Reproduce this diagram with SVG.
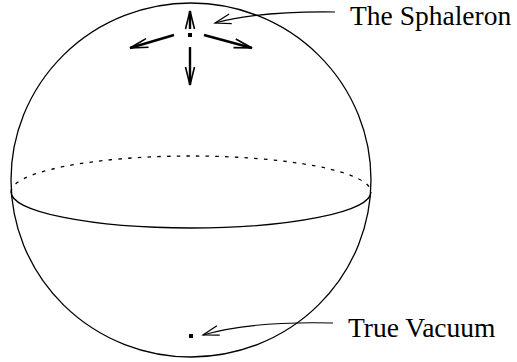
<svg xmlns="http://www.w3.org/2000/svg" width="517" height="362" viewBox="0 0 517 362">
<style>
.ln{fill:none;stroke:#000;stroke-width:1.3}
.thick{fill:none;stroke:#000;stroke-width:2.4}
.ptr{fill:none;stroke:#000;stroke-width:1.2}
.lbl{font-family:"Liberation Serif","Times New Roman",serif;font-size:27.5px;fill:#000}
</style>
<defs>
<marker id="bigV" markerUnits="userSpaceOnUse" markerWidth="30" markerHeight="20" viewBox="-20 -10 30 20" refX="0" refY="0" orient="auto">
<path d="M-18,-4.5 L0,0 L-18,4.5" fill="none" stroke="#000" stroke-width="1.6"/>
</marker>
<marker id="smallV" markerUnits="userSpaceOnUse" markerWidth="30" markerHeight="20" viewBox="-20 -10 30 20" refX="0" refY="0" orient="auto">
<path d="M-16,-5 L0,0 L-16,5" fill="none" stroke="#000" stroke-width="1.2"/>
</marker>
</defs>
<g id="sphere">
<ellipse class="ln" cx="191" cy="180" rx="180" ry="177"/>
</g>
<g id="equator">
<path class="ln" d="M11,192 A180,36 0 0,1 371,192" stroke-dasharray="3.5 6.2"/>
<path class="ln" d="M11,192 A180,36 0 0,0 371,192" stroke-width="1.7"/>
</g>
<g id="sphaleron">
<rect x="188" y="33" width="4" height="4" fill="#000"/>
</g>
<g id="true-vacuum">
<rect x="189" y="334" width="4" height="4" fill="#000"/>
</g>
<g id="connectors">
<line class="thick" x1="190" y1="29" x2="190" y2="11" marker-end="url(#bigV)"/>
<line class="thick" x1="190" y1="47" x2="190" y2="85" marker-end="url(#bigV)"/>
<line class="thick" x1="174" y1="35" x2="130" y2="48" marker-end="url(#bigV)"/>
<line class="thick" x1="204" y1="35" x2="252" y2="48" marker-end="url(#bigV)"/>
<path class="ptr" d="M335,12 Q260,11 215,23" marker-end="url(#smallV)"/>
<path class="ptr" d="M333,323 Q250,321 203,335" marker-end="url(#smallV)"/>
</g>
<g id="labels">
<text class="lbl" x="350" y="25">The Sphaleron</text>
<text class="lbl" x="348" y="337">True Vacuum</text>
</g>
</svg>
